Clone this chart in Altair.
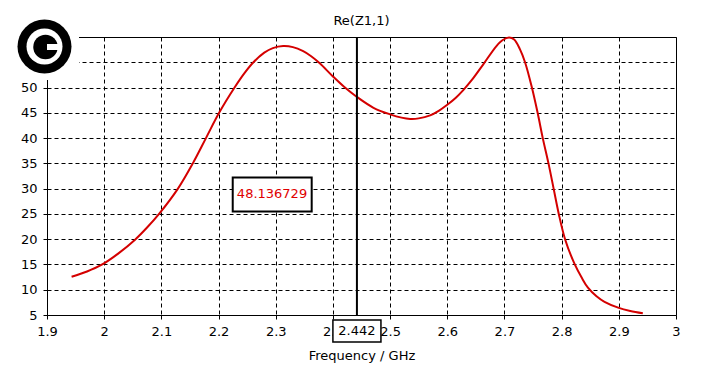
import altair as alt
import pandas as pd

# ---- data ----
freq = [1.943, 1.97, 1.995, 2.025, 2.054, 2.075, 2.096, 2.129, 2.155, 2.178, 2.201,
        2.228, 2.245, 2.261, 2.28, 2.295, 2.313, 2.33, 2.348, 2.362, 2.377, 2.4, 2.42,
        2.442, 2.471, 2.5, 2.52, 2.535, 2.55, 2.57, 2.585, 2.6, 2.615, 2.628, 2.643,
        2.663, 2.686, 2.697, 2.708, 2.717, 2.727, 2.736, 2.748, 2.758, 2.767, 2.777,
        2.786, 2.795, 2.806, 2.823, 2.835, 2.846, 2.861, 2.875, 2.9, 2.92, 2.942]
rez = [12.56, 13.6, 14.9, 17.2, 19.9, 22.3, 25.0, 30.0, 35.0, 40.0, 45.0,
       50.0, 52.8, 55.0, 56.9, 57.8, 58.2, 58.0, 57.2, 56.2, 54.8, 52.2, 50.1,
       48.14, 46.0, 44.7, 44.05, 43.8, 43.9, 44.5, 45.4, 46.6, 48.0, 49.5, 51.5,
       54.6, 58.2, 59.4, 59.9, 59.5, 57.6, 55.0, 50.0, 45.0, 40.0, 35.0,
       30.0, 25.0, 20.0, 15.0, 12.4, 10.4, 8.7, 7.6, 6.4, 5.8, 5.35]
x_ticks = [1.9, 2.0, 2.1, 2.2, 2.3, 2.4, 2.5, 2.6, 2.7, 2.8, 2.9, 3.0]
y_ticks = [5, 10, 15, 20, 25, 30, 35, 40, 45, 50, 55]
title_text = "Re(Z1,1)"
marker_x = 2.442
marker_value = "48.136729"
marker_label = "2.442"

FONT = "DejaVu Sans"
RED = "#d40000"
W, H = 629, 278

df = pd.DataFrame({"f": freq, "z": rez})

xs = alt.Scale(domain=[1.9, 3.0], nice=False, zero=False)
ys = alt.Scale(domain=[5, 60], nice=False, zero=False)

x_axis = alt.Axis(values=x_ticks, format="~g", title="Frequency / GHz", grid=True,
                  gridColor="black", gridDash=[4, 3], gridOpacity=1, gridWidth=1,
                  domainColor="black", tickColor="black", tickSize=4,
                  labelFont=FONT, labelFontSize=13, labelColor="black", labelPadding=6,
                  labelOverlap=False, titleFont=FONT, titleFontSize=13,
                  titleFontWeight="normal", titleColor="black", titlePadding=11,
                  labelFlush=False)
y_axis = alt.Axis(values=y_ticks, title=None, grid=True,
                  gridColor="black", gridDash=[4, 3], gridOpacity=1, gridWidth=1,
                  domainColor="black", tickColor="black", tickSize=4,
                  labelFont=FONT, labelFontSize=13, labelColor="black", labelPadding=6,
                  labelOverlap=False, labelFlush=False)

curve = alt.Chart(df).mark_line(color=RED, strokeWidth=2, interpolate="catmull-rom").encode(
    x=alt.X("f:Q", scale=xs, axis=x_axis),
    y=alt.Y("z:Q", scale=ys, axis=y_axis),
)

mk = pd.DataFrame({"x": [marker_x]})
vline = alt.Chart(mk).mark_rule(color="black", strokeWidth=2).encode(
    x=alt.X("x:Q", scale=xs, axis=x_axis), y=alt.value(0), y2=alt.value(H))

# value annotation box (data coordinates)
vbox_df = pd.DataFrame({"x1": [2.2248], "x2": [2.3629], "y1": [25.5], "y2": [32.2],
                        "tx": [2.2935], "ty": [28.9], "t": [marker_value]})
vbox = alt.Chart(vbox_df).mark_rect(fill="white", stroke="black", strokeWidth=2).encode(
    x=alt.X("x1:Q", scale=xs, axis=x_axis), x2="x2:Q",
    y=alt.Y("y1:Q", scale=ys, axis=y_axis), y2="y2:Q")
vtext = alt.Chart(vbox_df).mark_text(color="#e00000", font=FONT, fontSize=13).encode(
    x=alt.X("tx:Q", scale=xs, axis=x_axis), y=alt.Y("ty:Q", scale=ys, axis=y_axis),
    text="t:N")

# marker label box under the axis
mbox_df = pd.DataFrame({"x1": [marker_x - 0.042], "x2": [marker_x + 0.042],
                        "tx": [marker_x], "t": [marker_label]})
mbox = alt.Chart(mbox_df).mark_rect(fill="white", stroke="black", strokeWidth=1.5).encode(
    x=alt.X("x1:Q", scale=xs, axis=x_axis), x2="x2:Q", y=alt.value(283), y2=alt.value(305))
mtext = alt.Chart(mbox_df).mark_text(color="black", font=FONT, fontSize=13).encode(
    x=alt.X("tx:Q", scale=xs, axis=x_axis), y=alt.value(294), text="t:N")

# chart title as a text mark above the plot
title_df = pd.DataFrame({"t": [title_text]})
title = alt.Chart(title_df).mark_text(color="black", font=FONT, fontSize=13,
                                      baseline="middle").encode(
    x=alt.value(W / 2), y=alt.value(-16.5), text="t:N")

# logo in the top-left corner
logo_df = pd.DataFrame({"k": [0]})
logo_bg = alt.Chart(logo_df).mark_rect(fill="white").encode(
    x=alt.value(-39), x2=alt.value(32), y=alt.value(-29), y2=alt.value(43))
ring_outer = alt.Chart(logo_df).mark_point(shape="circle", filled=True, color="black",
                                           opacity=1, size=54 * 54).encode(
    x=alt.value(-2.5), y=alt.value(9.5))
ring_inner = alt.Chart(logo_df).mark_point(shape="circle", filled=True, color="white",
                                           opacity=1, size=36 * 36).encode(
    x=alt.value(-2.5), y=alt.value(9.5))
c_disk = alt.Chart(logo_df).mark_point(shape="circle", filled=True, color="black",
                                       opacity=1, size=24.5 * 24.5).encode(
    x=alt.value(-1.5), y=alt.value(10))
c_notch = alt.Chart(logo_df).mark_rect(fill="white").encode(
    x=alt.value(0), x2=alt.value(14), y=alt.value(7), y2=alt.value(13))

chart = alt.layer(curve, vline, vbox, vtext, mbox, mtext, title,
                  logo_bg, ring_outer, ring_inner, c_disk, c_notch).properties(
    width=W, height=H,
    autosize=alt.AutoSizeParams(type="none"),
    padding={"left": 39, "top": 29, "right": 20, "bottom": 50},
).configure_view(stroke="black", strokeWidth=1).configure_axis(labelOverlap=False)

chart.save("out.html", embed_options={"renderer": "svg", "actions": False})
